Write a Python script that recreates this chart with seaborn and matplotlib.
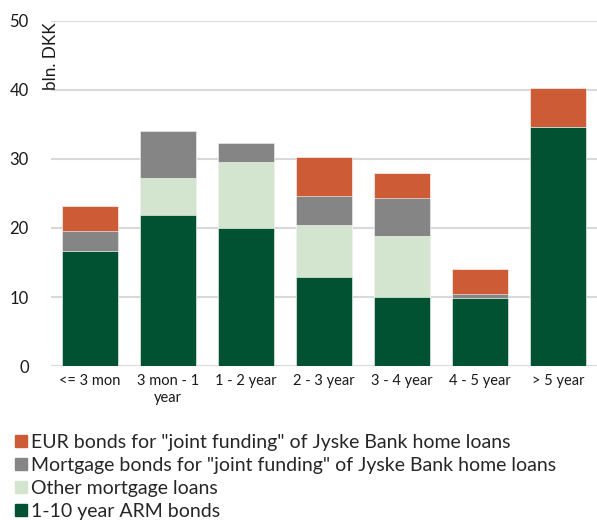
import numpy as np
import pandas as pd
import matplotlib
matplotlib.use("Agg")
import matplotlib.pyplot as plt
from matplotlib.lines import Line2D
import seaborn as sns

categories = ["<= 3 mon", "3 mon - 1\nyear", "1 - 2 year", "2 - 3 year",
              "3 - 4 year", "4 - 5 year", "> 5 year"]
arm_bonds = [16.6, 21.9, 20.0, 12.9, 10.0, 9.8, 34.6]
other_mortgage = [0.0, 5.4, 9.5, 7.6, 8.9, 0.0, 0.0]
mortgage_joint = [2.9, 6.8, 2.8, 4.2, 5.4, 0.6, 0.0]
eur_joint = [3.7, 0.0, 0.0, 5.6, 3.7, 3.7, 5.6]

series_names = ["1-10 year ARM bonds", "Other mortgage loans",
                "Mortgage bonds for \"joint funding\" of Jyske Bank home loans",
                "EUR bonds for \"joint funding\" of Jyske Bank home loans"]
series_values = [arm_bonds, other_mortgage, mortgage_joint, eur_joint]
colors = ["#005232", "#D3E5CF", "#858585", "#CD5B36"]

sns.set_theme(style="white")
plt.rcParams["font.family"] = ["Lato", "DejaVu Sans"]

fig = plt.figure(figsize=(5.97, 5.20), dpi=100)
ax = fig.add_axes([0.0854, 0.296, 0.9146, 0.664])

# stacked bars: draw cumulative totals from the top layer down
cum = np.cumsum(np.array(series_values), axis=0)
for i in range(len(series_values) - 1, -1, -1):
    df = pd.DataFrame({"cat": categories, "val": cum[i]})
    sns.barplot(data=df, x="cat", y="val", color=colors[i], width=0.72,
                saturation=1, ax=ax, zorder=3, edgecolor="white", linewidth=0.4)

ax.set_ylim(0, 50)
ax.set_xlim(-0.5, len(categories) - 0.5)
ax.set_yticks(range(0, 51, 10))
ax.yaxis.grid(True, color="#D9D9D9", linewidth=1.5, zorder=0)
ax.set_axisbelow(True)
for s in ax.spines.values():
    s.set_visible(False)
ax.set_xlabel("")
ax.set_ylabel("")
ax.tick_params(axis="y", labelsize=12, colors="#1a1a1a", length=0, pad=16)
ax.tick_params(axis="x", labelsize=10.5, colors="#1a1a1a", length=0, pad=6)

ax.text(0.0, 0.995, "bln. DKK", transform=ax.transAxes, rotation=90,
        ha="center", va="top", fontsize=12.3, color="#1a1a1a")

handles = [Line2D([0], [0], marker="s", linestyle="none", markersize=9,
                  markerfacecolor=colors[i], markeredgecolor=colors[i])
           for i in range(len(series_names) - 1, -1, -1)]
labels = [series_names[i] for i in range(len(series_names) - 1, -1, -1)]
fig.legend(handles, labels, loc="upper left", bbox_to_anchor=(0.025, 0.166),
           frameon=False, fontsize=14, handlelength=0.6, handletextpad=0.25,
           labelspacing=0.31, borderaxespad=0, borderpad=0)

fig.savefig("out.png", dpi=100)
